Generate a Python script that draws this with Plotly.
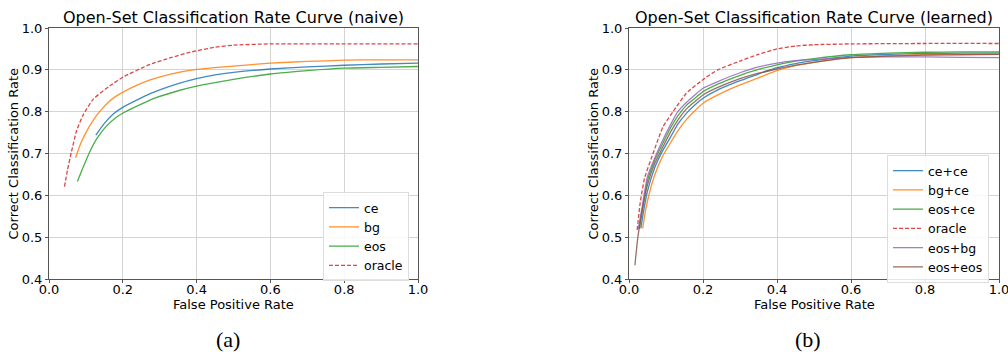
import plotly.graph_objects as go

# ---------------- data: (a) naive ----------------
naive_ce_x = [0.127, 0.15, 0.175, 0.203, 0.25, 0.274, 0.3, 0.35, 0.4, 0.45, 0.5, 0.6, 0.7, 0.8, 0.9, 1.0]
naive_ce_y = [0.744, 0.772, 0.795, 0.812, 0.833, 0.843, 0.852, 0.867, 0.879, 0.888, 0.894, 0.902, 0.907, 0.911, 0.914, 0.916]

naive_bg_x = [0.072, 0.085, 0.1, 0.12, 0.14, 0.16, 0.18, 0.203, 0.24, 0.274, 0.33, 0.4, 0.5, 0.6, 0.7, 0.8, 0.9, 1.0]
naive_bg_y = [0.690, 0.722, 0.750, 0.780, 0.803, 0.822, 0.836, 0.848, 0.864, 0.876, 0.890, 0.901, 0.909, 0.916, 0.920, 0.923, 0.924, 0.924]

naive_eos_x = [0.077, 0.09, 0.111, 0.13, 0.156, 0.18, 0.203, 0.25, 0.292, 0.35, 0.4, 0.5, 0.6, 0.7, 0.8, 0.9, 1.0]
naive_eos_y = [0.633, 0.662, 0.705, 0.736, 0.766, 0.785, 0.798, 0.818, 0.834, 0.850, 0.861, 0.877, 0.890, 0.898, 0.904, 0.906, 0.908]

naive_oracle_x = [0.042, 0.05, 0.061, 0.075, 0.093, 0.12, 0.165, 0.203, 0.274, 0.33, 0.382, 0.45, 0.5, 0.6, 0.8, 1.0]
naive_oracle_y = [0.621, 0.660, 0.705, 0.755, 0.793, 0.830, 0.862, 0.884, 0.913, 0.929, 0.942, 0.954, 0.959, 0.962, 0.962, 0.962]

# ---------------- data: (b) learned ----------------
learned_cece_x = [0.032, 0.04, 0.05, 0.07, 0.09, 0.114, 0.132, 0.155, 0.178, 0.2, 0.24, 0.3, 0.35, 0.4, 0.45, 0.5, 0.6, 0.7, 0.8, 0.9, 1.0]
learned_cece_y = [0.521, 0.565, 0.610, 0.667, 0.705, 0.742, 0.770, 0.796, 0.816, 0.832, 0.852, 0.874, 0.890, 0.905, 0.915, 0.922, 0.933, 0.937, 0.939, 0.940, 0.940]

learned_bgce_x = [0.037, 0.045, 0.055, 0.07, 0.09, 0.114, 0.132, 0.155, 0.178, 0.2, 0.24, 0.3, 0.35, 0.4, 0.45, 0.5, 0.6, 0.7, 0.8, 0.9, 1.0]
learned_bgce_y = [0.521, 0.565, 0.605, 0.650, 0.692, 0.728, 0.754, 0.781, 0.802, 0.820, 0.840, 0.864, 0.881, 0.898, 0.910, 0.918, 0.929, 0.934, 0.936, 0.937, 0.937]

learned_eosce_x = [0.028, 0.035, 0.05, 0.07, 0.09, 0.114, 0.132, 0.155, 0.178, 0.2, 0.24, 0.3, 0.35, 0.4, 0.45, 0.5, 0.6, 0.7, 0.8, 0.9, 1.0]
learned_eosce_y = [0.520, 0.560, 0.635, 0.685, 0.722, 0.764, 0.790, 0.815, 0.832, 0.848, 0.866, 0.887, 0.901, 0.912, 0.921, 0.927, 0.936, 0.940, 0.942, 0.943, 0.943]

learned_oracle_x = [0.022, 0.03, 0.042, 0.065, 0.092, 0.119, 0.155, 0.205, 0.24, 0.3, 0.35, 0.4, 0.45, 0.5, 0.6, 0.8, 1.0]
learned_oracle_y = [0.517, 0.580, 0.641, 0.700, 0.764, 0.800, 0.844, 0.880, 0.900, 0.921, 0.937, 0.950, 0.957, 0.960, 0.962, 0.963, 0.963]

learned_eosbg_x = [0.025, 0.035, 0.05, 0.07, 0.087, 0.114, 0.132, 0.155, 0.178, 0.2, 0.24, 0.3, 0.35, 0.4, 0.45, 0.5, 0.6, 0.7, 0.8, 0.9, 1.0]
learned_eosbg_y = [0.520, 0.570, 0.645, 0.690, 0.724, 0.772, 0.800, 0.822, 0.840, 0.856, 0.872, 0.893, 0.907, 0.916, 0.922, 0.925, 0.930, 0.931, 0.931, 0.930, 0.929]

learned_eoseos_x = [0.016, 0.024, 0.035, 0.05, 0.07, 0.09, 0.114, 0.132, 0.155, 0.178, 0.2, 0.24, 0.3, 0.35, 0.4, 0.45, 0.5, 0.6, 0.7, 0.8, 0.9, 1.0]
learned_eoseos_y = [0.433, 0.500, 0.560, 0.625, 0.677, 0.713, 0.754, 0.780, 0.806, 0.824, 0.840, 0.858, 0.879, 0.892, 0.902, 0.911, 0.918, 0.929, 0.933, 0.935, 0.936, 0.937]

titles = ["Open-Set Classification Rate Curve (naive)", "Open-Set Classification Rate Curve (learned)"]
captions = ["(a)", "(b)"]
x_label = "False Positive Rate"
y_label = "Correct Classification Rate"
tick_vals_x = [0.0, 0.2, 0.4, 0.6, 0.8, 1.0]
tick_vals_y = [0.4, 0.5, 0.6, 0.7, 0.8, 0.9, 1.0]

BLUE, ORANGE, GREEN, RED, PURPLE, BROWN = "#1f77b4", "#ff7f0e", "#2ca02c", "#d62728", "#9467bd", "#8c564b"

W, H = 1008, 352
FONT = "DejaVu Sans"

fig = go.Figure()

def add(x, y, name, color, xa, ya, leg, dash=None):
    fig.add_trace(go.Scatter(
        x=x, y=y, name=name, mode="lines", xaxis=xa, yaxis=ya, legend=leg,
        opacity=0.85,
        line=dict(color=color, width=1.3, dash=dash if dash else "solid", shape="spline", smoothing=0.5),
    ))

add(naive_ce_x, naive_ce_y, "ce", BLUE, "x", "y", "legend")
add(naive_bg_x, naive_bg_y, "bg", ORANGE, "x", "y", "legend")
add(naive_eos_x, naive_eos_y, "eos", GREEN, "x", "y", "legend")
add(naive_oracle_x, naive_oracle_y, "oracle", RED, "x", "y", "legend", dash="4px,2px")

add(learned_cece_x, learned_cece_y, "ce+ce", BLUE, "x2", "y2", "legend2")
add(learned_bgce_x, learned_bgce_y, "bg+ce", ORANGE, "x2", "y2", "legend2")
add(learned_eosce_x, learned_eosce_y, "eos+ce", GREEN, "x2", "y2", "legend2")
add(learned_oracle_x, learned_oracle_y, "oracle", RED, "x2", "y2", "legend2", dash="4px,2px")
add(learned_eosbg_x, learned_eosbg_y, "eos+bg", PURPLE, "x2", "y2", "legend2")
add(learned_eoseos_x, learned_eoseos_y, "eos+eos", BROWN, "x2", "y2", "legend2")

def px(v):
    return v / W

def py(v):
    return 1 - v / H

y_dom = [py(279), py(28)]
dom_a = [px(49), px(418)]
dom_b = [px(629), px(999)]

axis_common = dict(
    showgrid=True, gridcolor="#d4d4d4", gridwidth=1,
    showline=True, linecolor="#555555", linewidth=1, mirror=True,
    ticks="outside", ticklen=3, tickcolor="#555555",
    tickfont=dict(family=FONT, size=13, color="black"),
    zeroline=False, fixedrange=True, automargin=False,
    ticklabeloverflow="allow",
)
xaxis_extra = dict(ticklabelstandoff=-5)

fig.update_layout(
    width=W, height=H,
    margin=dict(l=0, r=0, t=0, b=0),
    paper_bgcolor="white", plot_bgcolor="white",
    font=dict(family=FONT, color="black"),
    xaxis=dict(domain=dom_a, range=[0, 1], tickvals=tick_vals_x, ticktext=[f"{v:.1f}" for v in tick_vals_x], anchor="y", **axis_common, **xaxis_extra),
    yaxis=dict(domain=y_dom, range=[0.4, 1.0], tickvals=tick_vals_y, ticktext=[f"{v:.1f}" for v in tick_vals_y], anchor="x", **axis_common),
    xaxis2=dict(domain=dom_b, range=[0, 1], tickvals=tick_vals_x, ticktext=[f"{v:.1f}" for v in tick_vals_x], anchor="y2", **axis_common, **xaxis_extra),
    yaxis2=dict(domain=y_dom, range=[0.4, 1.0], tickvals=tick_vals_y, ticktext=[f"{v:.1f}" for v in tick_vals_y], anchor="x2", **axis_common),
    legend=dict(x=px(323), y=py(192), xanchor="left", yanchor="top",
                bgcolor="rgba(255,255,255,0.85)", bordercolor="#dddddd", borderwidth=1,
                font=dict(family=FONT, size=12.5), tracegroupgap=0, itemwidth=30),
    legend2=dict(x=px(887), y=py(155), xanchor="left", yanchor="top",
                 bgcolor="rgba(255,255,255,0.85)", bordercolor="#dddddd", borderwidth=1,
                 font=dict(family=FONT, size=12.5), tracegroupgap=0, itemwidth=30),
    showlegend=True,
)

annotations = []
for i, (dom, t, c) in enumerate(zip([dom_a, dom_b], titles, captions)):
    cx = (dom[0] + dom[1]) / 2
    annotations.append(dict(text=t, x=cx, y=py(17), xref="paper", yref="paper", showarrow=False,
                            xanchor="center", yanchor="middle", font=dict(family=FONT, size=16, color="black")))
    annotations.append(dict(text=x_label, x=cx, y=py(304), xref="paper", yref="paper", showarrow=False,
                            xanchor="center", yanchor="middle", font=dict(family=FONT, size=13, color="black")))
    annotations.append(dict(text=y_label, x=px(13 + i * 580), y=(y_dom[0] + y_dom[1]) / 2, xref="paper", yref="paper",
                            showarrow=False, textangle=-90, xanchor="center", yanchor="middle",
                            font=dict(family=FONT, size=13, color="black")))
    annotations.append(dict(text=c, x=px(228 + i * 580), y=py(339), xref="paper", yref="paper", showarrow=False,
                            xanchor="center", yanchor="middle", font=dict(family="Liberation Serif", size=22, color="black")))
fig.update_layout(annotations=annotations)

fig.write_html("out.html", config={"displayModeBar": False},
               post_script="document.body.style.margin='0px';document.body.style.overflow='hidden';")
